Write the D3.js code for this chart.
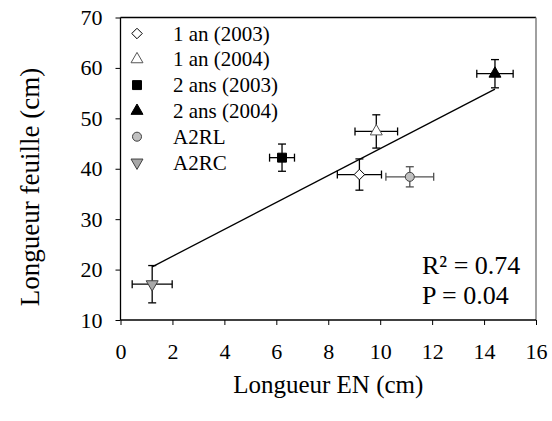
<!DOCTYPE html>
<html><head><meta charset="utf-8">
<script src="https://cdn.jsdelivr.net/npm/d3@7"></script>
<style>body{margin:0;background:#fff}svg{display:block}</style>
</head><body><svg id="c" width="552" height="421" font-family="Liberation Serif"></svg>
<script>
const series = ["1 an (2003)","1 an (2004)","2 ans (2003)","2 ans (2004)","A2RL","A2RC"];
const xVals = [9.2, 9.85, 6.22, 14.42, 11.14, 1.22];
const yVals = [38.85, 47.4, 42.2, 58.85, 38.4, 17.1];
const xErr = [0.85, 0.82, 0.48, 0.7, 0.92, 0.77];
const yErr = [3.1, 3.3, 2.7, 2.8, 2.0, 3.7];
const symbols = ["diamond","triangle","square","triangle","circle","triangleDown"];
const fills = ["#ffffff","#ffffff","#000000","#000000","#c0c0c0","#a8a8a8"];
const strokes = ["#000000","#555555","#000000","#000000","#404040","#404040"];
const errColors = ["#000000","#000000","#000000","#000000","#505050","#000000"];
const fitX = [1.22, 14.42];
const fitY = [20.55, 55.8];
const xTicks = [0,2,4,6,8,10,12,14,16];
const yTicks = [10,20,30,40,50,60,70];
const statLines = ["R² = 0.74","P = 0.04"];

const FONT = 'Liberation Serif';
const svg = d3.select("#c");
const L=120.5, R=536, T=17.5, B=320;
const x = d3.scaleLinear().domain([0,16]).range([L,R]);
const y = d3.scaleLinear().domain([10,70]).range([B,T]);

// frame
svg.append("line").attr("x1",L).attr("x2",R).attr("y1",T).attr("y2",T).attr("stroke","#000").attr("stroke-width",1.3);
svg.append("line").attr("x1",R).attr("x2",R).attr("y1",T).attr("y2",B).attr("stroke","#808080").attr("stroke-width",1.5);

const xa = svg.append("g").attr("transform",`translate(0,${B})`)
  .call(d3.axisBottom(x).tickValues(xTicks).tickSize(5).tickPadding(18).tickFormat(d3.format("d")));
const ya = svg.append("g").attr("transform",`translate(${L},0)`)
  .call(d3.axisLeft(y).tickValues(yTicks).tickSize(5).tickPadding(13).tickFormat(d3.format("d")));
[xa,ya].forEach(a=>{
  a.attr("font-family",FONT).attr("font-size",22);
  a.selectAll("path").attr("stroke","#000").attr("stroke-width",1.3);
  a.selectAll("line").attr("stroke","#000").attr("stroke-width",1);
  a.selectAll("text").attr("font-family",FONT).attr("font-size",22).attr("fill","#000");
});
ya.select(".domain").attr("d",`M0,${B}V${T}`);
xa.select(".domain").attr("d",`M${L},0H${R}`);

// fit line
svg.append("line").attr("x1",x(fitX[0])).attr("y1",y(fitY[0])).attr("x2",x(fitX[1])).attr("y2",y(fitY[1]))
  .attr("stroke","#000").attr("stroke-width",1.3);

const symMap = {diamond:d3.symbolDiamond2, triangle:d3.symbolTriangle, square:d3.symbolSquare, circle:d3.symbolCircle};
function sym(name){
  if(name==="triangleDown") return {g:d3.symbol(d3.symbolTriangle).size(62)(), rot:180};
  const sizes={diamond:70,triangle:62,square:80,circle:64};
  return {g:d3.symbol(symMap[name]).size(sizes[name])(), rot:0};
}

const cap=4;
series.forEach((s,i)=>{
  const g = svg.append("g");
  const cx=x(xVals[i]), cy=y(yVals[i]);
  const c=errColors[i];
  const x0=x(xVals[i]-xErr[i]), x1=x(xVals[i]+xErr[i]);
  const y0=y(yVals[i]-yErr[i]), y1=y(yVals[i]+yErr[i]);
  g.append("line").attr("x1",x0).attr("x2",x1).attr("y1",cy).attr("y2",cy).attr("stroke",c).attr("stroke-width",1.3);
  g.append("line").attr("x1",cx).attr("x2",cx).attr("y1",y0).attr("y2",y1).attr("stroke",c).attr("stroke-width",1.3);
  [x0,x1].forEach(v=>g.append("line").attr("x1",v).attr("x2",v).attr("y1",cy-cap).attr("y2",cy+cap).attr("stroke",c).attr("stroke-width",1.3));
  [y0,y1].forEach(v=>g.append("line").attr("x1",cx-cap).attr("x2",cx+cap).attr("y1",v).attr("y2",v).attr("stroke",c).attr("stroke-width",1.3));
  const sm=sym(symbols[i]);
  g.append("path").attr("d",sm.g).attr("transform",`translate(${cx},${cy}) rotate(${sm.rot})`)
    .attr("fill",fills[i]).attr("stroke",strokes[i]).attr("stroke-width",1);
});

// legend
const lg = svg.append("g");
series.forEach((s,i)=>{
  const yy = 33.5 + i*25.8;
  const sm=sym(symbols[i]);
  lg.append("path").attr("d",sm.g).attr("transform",`translate(137,${yy}) rotate(${sm.rot})`)
    .attr("fill",fills[i]).attr("stroke",strokes[i]).attr("stroke-width",1);
  lg.append("text").attr("x",173).attr("y",yy+7).attr("font-family",FONT).attr("font-size",21).text(s);
});

// stats
statLines.forEach((t,i)=>{
  svg.append("text").attr("x",422).attr("y",274+i*30).attr("font-family",FONT).attr("font-size",26).text(t);
});

// axis titles
svg.append("text").attr("x",(L+R)/2).attr("y",393).attr("text-anchor","middle").attr("font-family",FONT).attr("font-size",25).text("Longueur EN (cm)");
svg.append("text").attr("transform",`translate(39,187) rotate(-90)`).attr("text-anchor","middle").attr("font-family",FONT).attr("font-size",27).text("Longueur feuille (cm)");
</script></body></html>
